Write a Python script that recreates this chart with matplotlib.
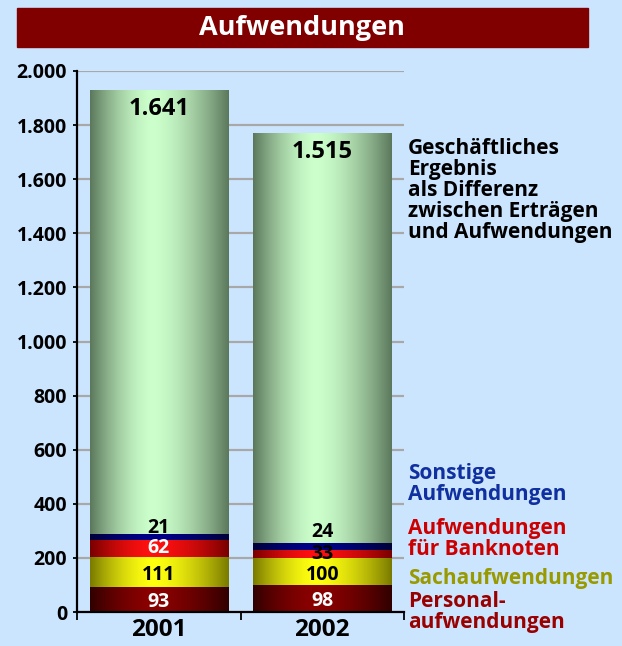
import numpy as np
import matplotlib.pyplot as plt
from matplotlib.colors import to_rgb
from matplotlib.patches import Rectangle

years = ["2001", "2002"]
personal = [93, 98]
sach = [111, 100]
banknoten = [62, 33]
sonstige = [21, 24]
ergebnis = [1641, 1515]

series = [personal, sach, banknoten, sonstige, ergebnis]
# (edge colour, centre colour) for the cylinder shading
shades = [("#300000", "#8a0000"),
          ("#7a7a00", "#ffff10"),
          ("#780000", "#ff1010"),
          ("#000038", "#000088"),
          ("#5c785c", "#ccffcc")]
label_colors = [["white", "white"], ["black", "black"], ["white", "black"],
                ["black", "black"], ["black", "black"]]

bg = "#cce5ff"
W, H = 622, 646
plt.rcParams['font.family'] = ['Open Sans', 'DejaVu Sans']
plt.rcParams['font.weight'] = 'bold'

fig = plt.figure(figsize=(W / 100, H / 100), dpi=100, facecolor=bg)
ax = fig.add_axes([77 / W, 1 - 612 / H, (404 - 77) / W, (612 - 71) / H])
ax.set_facecolor(bg)

x = np.arange(len(years))
bottom = np.zeros(len(years))
t = np.linspace(0, 1, 200)
prof = np.where(t < 0.45, (0.45 - t) / 0.45, (t - 0.45) / 0.55)
prof = 1 - prof ** 1.6

for i, vals in enumerate(series):
    bars = ax.bar(x, vals, 0.845, bottom=bottom, color="none", zorder=2)
    e = np.array(to_rgb(shades[i][0]))
    c = np.array(to_rgb(shades[i][1]))
    img = e[None, None, :] + (c - e)[None, None, :] * prof[None, :, None]
    for j, b in enumerate(bars):
        x0, y0 = b.get_x(), b.get_y()
        ax.imshow(img, extent=[x0, x0 + b.get_width(), y0, y0 + b.get_height()],
                  aspect="auto", zorder=2, interpolation="bilinear")
        txt = f"{vals[j]:,}".replace(",", ".")
        if i == 4:
            ax.text(x[j], y0 + vals[j] - 24, txt, ha="center", va="top",
                    fontsize=17, color=label_colors[i][j], zorder=3)
        elif i == 3:
            ax.text(x[j], y0 + vals[j] + 6 + 15 * j, txt, ha="center", va="baseline",
                    fontsize=14, color=label_colors[i][j], zorder=3)
        else:
            off = {0: -8, 1: -10, 2: 0}[i]
            ax.text(x[j], y0 + vals[j] / 2 + off, txt, ha="center", va="center",
                    fontsize=14, color=label_colors[i][j], zorder=3)
    bottom = bottom + np.array(vals)

ax.set_xlim(-0.5, 1.5)
ax.set_ylim(0, 2000)
ax.set_yticks(range(0, 2001, 200))
ax.set_yticklabels([f"{v:,}".replace(",", ".") for v in range(0, 2001, 200)], fontsize=14)
ax.yaxis.grid(True, color="#a8a8a8", lw=1.6, zorder=0)
ax.set_axisbelow(True)
ax.set_xticks([-0.5, 0.5, 1.5])
ax.set_xticklabels([])
ax.set_xticks(x, minor=True)
ax.set_xticklabels(years, minor=True, fontsize=17.5)
ax.tick_params(axis="x", which="minor", length=0, pad=4)
ax.tick_params(axis="x", which="major", length=6, width=1.3, direction="out")
ax.tick_params(axis="y", length=3, width=1.3, pad=4)
for s in ["top", "right"]:
    ax.spines[s].set_visible(False)
for s in ["left", "bottom"]:
    ax.spines[s].set_linewidth(1.6)

# title box
fig.patches.append(Rectangle((17 / W, 1 - 47 / H), (588 - 17) / W, 39 / H,
                             transform=fig.transFigure, color="#800000"))
fig.text(302 / W, 1 - 28 / H, "Aufwendungen", ha="center", va="center",
         color="white", fontsize=19.5)

# series labels on the right
side = [("Geschäftliches\nErgebnis\nals Differenz\nzwischen Erträgen\nund Aufwendungen", "black", 138),
        ("Sonstige\nAufwendungen", "#1030a0", 463),
        ("Aufwendungen\nfür Banknoten", "#cc0000", 518),
        ("Sachaufwendungen", "#999900", 568),
        ("Personal-\naufwendungen", "#990000", 591)]
for s, col, top in side:
    fig.text(408 / W, 1 - top / H, s, ha="left", va="top", color=col,
             fontsize=15, linespacing=1.0)

fig.savefig("out.png", dpi=100, facecolor=bg)
